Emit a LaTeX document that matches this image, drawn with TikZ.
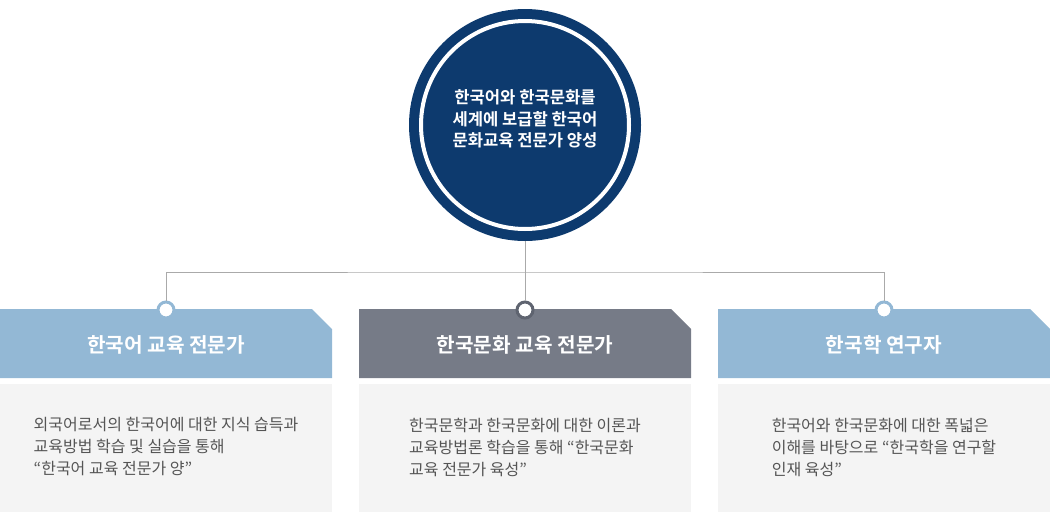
\documentclass[tikz,border=0pt]{standalone}
\usepackage{fontspec}
\setmainfont{Noto Sans CJK KR}
\newfontfamily\krbold{Noto Sans CJK KR Bold}
\definecolor{navy}{HTML}{0D3A6E}
\definecolor{lblue}{HTML}{93B8D5}
\definecolor{slate}{HTML}{767B87}
\definecolor{slatedot}{HTML}{5F6470}
\definecolor{panel}{HTML}{F4F4F4}
\definecolor{lineg}{HTML}{AAAAAA}
\definecolor{bodyt}{HTML}{555555}
\tikzset{
  conn/.style={draw=lineg, line width=1pt},
  dot/.style={circle, fill=white, line width=3pt, minimum size=16pt, inner sep=0pt},
  headtext/.style={text=white, font=\krbold\fontsize{20.2}{22}\selectfont},
  bodytext/.style={text=bodyt, align=left, font=\fontsize{16}{22}\selectfont},
  titletext/.style={text=white, align=center, font=\krbold\fontsize{16.6}{21.5}\selectfont},
}
\begin{document}
\begin{tikzpicture}[x=1pt,y=-1pt]
\useasboundingbox (0,0) rectangle (1050,512);
% main circle
\fill[navy] (525,125) circle (116);
\draw[white, line width=4pt] (525,125) circle (104);
\node[circle, minimum size=232pt, inner sep=0pt] (main) at (525,125) {};
\node[titletext] (title) at (525,119) {한국어와 한국문화를\\세계에 보급할 한국어\\문화교육 전문가 양성};
% panels
\foreach \x/\n in {0/1,359/2,718/3}{
  \fill[panel] (\x,384) rectangle ++(332,128);
}
\fill[lblue] (0,309) -- (312,309) -- (332,329) -- (332,378) -- (0,378) -- cycle;
\fill[slate] (359,309) -- (671,309) -- (691,329) -- (691,378) -- (359,378) -- cycle;
\fill[lblue] (718,309) -- (1030,309) -- (1050,329) -- (1050,378) -- (718,378) -- cycle;
\node[headtext] (h1) at (166,345) {한국어 교육 전문가};
\node[headtext] (h2) at (525,345) {한국문화 교육 전문가};
\node[headtext] (h3) at (884,345) {한국학 연구자};
% connectors
\coordinate (j) at (525,272);
\node[dot, draw=lblue] (d1) at (166,310) {};
\node[dot, draw=slatedot] (d2) at (525,310) {};
\node[dot, draw=lblue] (d3) at (884,310) {};
\draw[conn] (main.south) -- (d2.north);
\draw[conn] (d1.north) |- (j) -| (d3.north);
% body text
\node[bodytext] (b1) at (166,447) {외국어로서의 한국어에 대한 지식 습득과\\교육방법 학습 및 실습을 통해\\“한국어 교육 전문가 양”};
\node[bodytext] (b2) at (525,447) {한국문학과 한국문화에 대한 이론과\\교육방법론 학습을 통해 “한국문화\\교육 전문가 육성”};
\node[bodytext] (b3) at (884,447) {한국어와 한국문화에 대한 폭넓은\\이해를 바탕으로 “한국학을 연구할\\인재 육성”};
\end{tikzpicture}
\end{document}
